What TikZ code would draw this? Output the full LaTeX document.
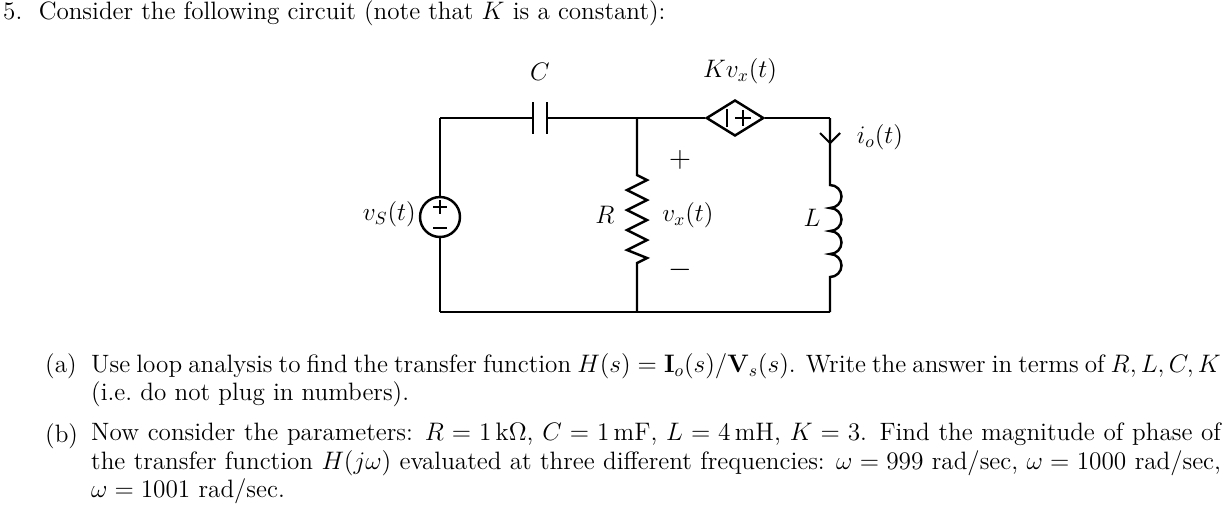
\documentclass[tikz,border=0pt]{standalone}
\usetikzlibrary{shapes.geometric,arrows.meta}
\begin{document}
\begin{tikzpicture}[x=0.02cm,y=-0.02cm,line width=1.4pt,
  txt/.style={inner sep=0pt,font=\fontsize{14.3}{16}\selectfont},
  big/.style={inner sep=0pt,font=\fontsize{18}{20}\selectfont},
  par/.style={txt,anchor=north west,text width=22.6cm,align=justify}]
\useasboundingbox (0,0) rectangle (1227,508);
% header
\node[txt,anchor=west] (title) at (2,13) {5.\ \ Consider the following circuit (note that $K$ is a constant):};
% coordinates
\coordinate (tl) at (440,118); \coordinate (bl) at (440,312);
\coordinate (tm) at (637,118); \coordinate (bm) at (637,312);
\coordinate (tr) at (830,118); \coordinate (br) at (830,312);
% source
\node[circle,draw,minimum size=0.8cm,inner sep=0pt] (vs) at (440,217) {};
\draw (tl) -- (vs.north); \draw (vs.south) -- (bl);
\draw[line width=1.2pt] (440,200) -- (440,214) (433,207) -- (447,207) (433,228) -- (447,228);
\node[txt,anchor=east] (vsl) at (417,214) {$v_S(t)$};
% capacitor
\coordinate (c1) at (533,118); \coordinate (c2) at (547,118);
\draw (tl) -- (c1); \draw (c2) -- (tm);
\draw (533,102) -- (533,134) (547,102) -- (547,134);
\node[txt] (cl) at (540,72) {$C$};
% diamond source
\node[diamond,draw,minimum width=1.15cm,minimum height=0.72cm,inner sep=0pt] (ds) at (735,118) {};
\draw (tm) -- (ds.west); \draw (ds.east) -- (tr);
\draw[line width=1.2pt] (727,109) -- (727,127) (735,118) -- (751,118) (743,110) -- (743,126);
\node[txt] (kl) at (740,71) {$Kv_x(t)$};
% resistor
\draw (tm) -- (637,175) -- (647,180) -- (627,190) -- (647,200) -- (627,210) -- (647,220) -- (627,230) -- (647,240) -- (627,250) -- (647,258) -- (637,263) -- (bm);
\node[txt] (rl) at (605,215) {$R$};
\node[big] (pl) at (680,160) {$+$};
\node[txt] (vx) at (688,215) {$v_x(t)$};
\node[big] (ml) at (680,270) {$-$};
% inductor
\draw (tr) -- (830,185)
  arc[start angle=-90,end angle=90,radius=11.5] arc[start angle=-90,end angle=90,radius=11.5]
  arc[start angle=-90,end angle=90,radius=11.5] arc[start angle=-90,end angle=90,radius=11.5]
  -- (br);
\node[txt] (ll) at (812,218) {$L$};
% current arrow
\draw[line width=1.2pt] (820,133) -- (830,143) -- (840,133);
\node[txt] (il) at (880,137) {$i_o(t)$};
% bottom
\draw (bl) -- (bm) -- (br);
% questions
\node[txt,anchor=north west] (qa) at (44,352) {(a)};
\node[par] (ta) at (90,352) {Use loop analysis to find the transfer function $H(s)=\mathbf{I}_o(s)/\mathbf{V}_s(s)$. Write the answer in terms of $R,L,C,K$ (i.e.\ do not plug in numbers).};
\node[txt,anchor=north west] (qb) at (44,422) {(b)};
\node[par] (tb) at (90,422) {Now consider the parameters: $R=1\,\mathrm{k\Omega}$, $C=1\,\mathrm{mF}$, $L=4\,\mathrm{mH}$, $K=3$. Find the magnitude of phase of the transfer function $H(j\omega)$ evaluated at three different frequencies: $\omega=999$ rad/sec, $\omega=1000$ rad/sec, $\omega=1001$ rad/sec.};
\end{tikzpicture}
\end{document}
